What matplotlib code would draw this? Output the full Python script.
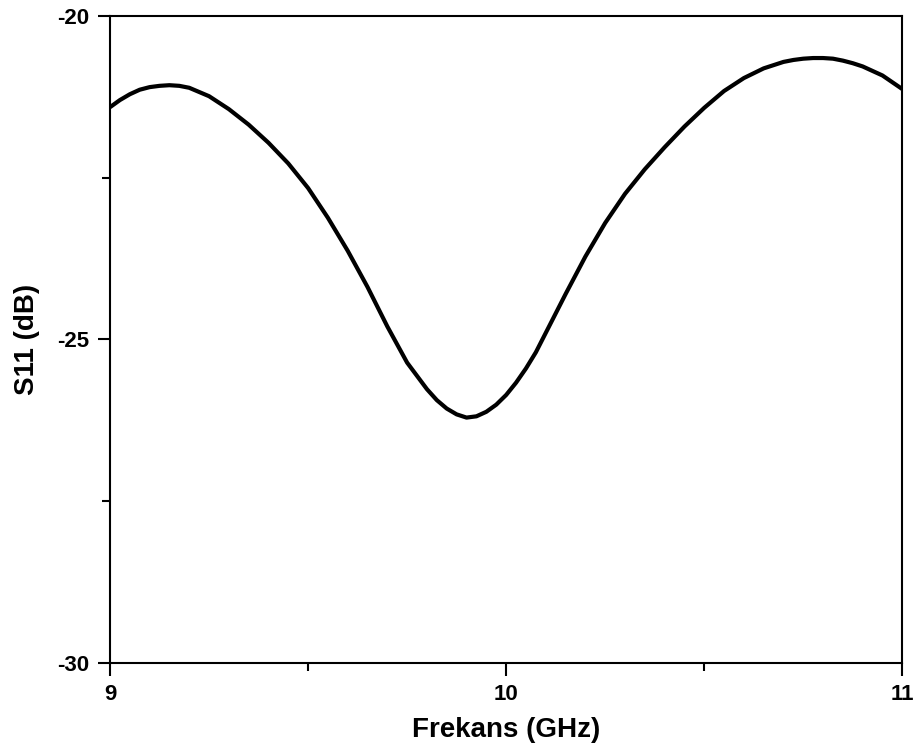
import matplotlib
matplotlib.use("Agg")
import matplotlib.pyplot as plt
from matplotlib.ticker import MultipleLocator

freq_ghz = [9.00, 9.025, 9.05, 9.075, 9.10, 9.125, 9.15, 9.175, 9.20, 9.25,
            9.30, 9.35, 9.40, 9.45, 9.50, 9.55, 9.60, 9.65, 9.70, 9.75,
            9.80, 9.825, 9.85, 9.875, 9.90, 9.925, 9.95, 9.975, 10.00, 10.025,
            10.05, 10.075, 10.10, 10.15, 10.20, 10.25, 10.30, 10.35, 10.40, 10.45,
            10.50, 10.55, 10.60, 10.65, 10.70, 10.725, 10.75, 10.775, 10.80, 10.825,
            10.85, 10.875, 10.90, 10.95, 11.00]
s11_db = [-21.41, -21.30, -21.21, -21.14, -21.10, -21.08, -21.07, -21.08, -21.11, -21.24,
          -21.44, -21.68, -21.96, -22.28, -22.66, -23.12, -23.63, -24.19, -24.80, -25.36,
          -25.77, -25.94, -26.07, -26.16, -26.21, -26.19, -26.12, -26.01, -25.86, -25.67,
          -25.45, -25.20, -24.90, -24.30, -23.72, -23.20, -22.75, -22.37, -22.03, -21.71,
          -21.42, -21.16, -20.96, -20.81, -20.71, -20.68, -20.66, -20.65, -20.65, -20.66,
          -20.69, -20.73, -20.78, -20.92, -21.13]

x_ticks = [9, 10, 11]
y_ticks = [-30, -25, -20]

plt.rcParams['font.family'] = ['Liberation Sans', 'DejaVu Sans']
plt.rcParams['axes.unicode_minus'] = False

fig = plt.figure(figsize=(9.2, 7.54), dpi=100)
ax = fig.add_axes([110 / 920, 1 - 662.7 / 754, (902.3 - 110) / 920, (662.7 - 16) / 754])

ax.plot(freq_ghz, s11_db, color='black', lw=3.0, solid_capstyle='butt',
        solid_joinstyle='round')

ax.set_xlim(9, 11)
ax.set_ylim(-30, -20)
ax.set_xticks(x_ticks)
ax.set_yticks(y_ticks)
ax.xaxis.set_minor_locator(MultipleLocator(0.5))
ax.yaxis.set_minor_locator(MultipleLocator(2.5))

for s in ax.spines.values():
    s.set_linewidth(1.5)

ax.tick_params(axis='both', which='major', direction='out', length=9, width=1.5,
               labelsize=16, pad=6, top=False, right=False)
ax.tick_params(axis='both', which='minor', direction='out', length=5.5, width=1.5,
               top=False, right=False)
for lab in ax.get_xticklabels() + ax.get_yticklabels():
    lab.set_fontweight('bold')

ax.set_xlabel('Frekans (GHz)', fontsize=20, fontweight='bold', labelpad=9)
ax.set_ylabel('S11 (dB)', fontsize=20, fontweight='bold', labelpad=12)

fig.savefig('out.png', dpi=100)
